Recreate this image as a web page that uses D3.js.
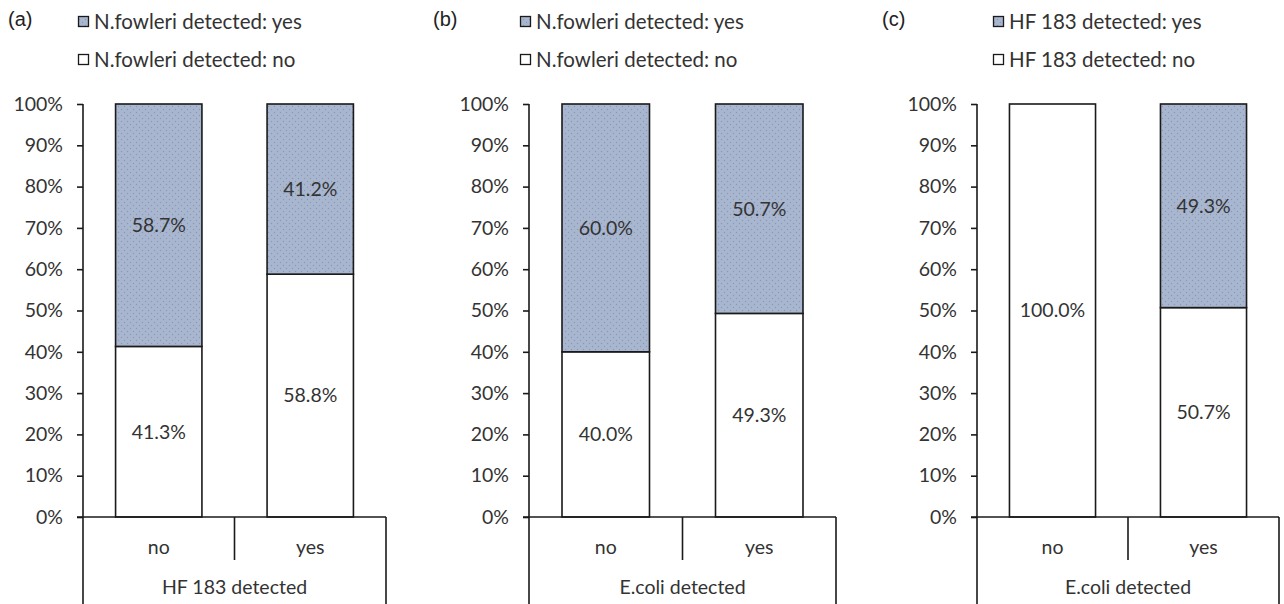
<!DOCTYPE html>
<html>
<head>
<meta charset="utf-8">
<script src="https://cdn.jsdelivr.net/npm/d3@7"></script>
<style>
  html, body { margin: 0; padding: 0; background: #fff; }
  svg { display: block; }
  text { font-family: Lato, "Open Sans", sans-serif; fill: #333; }
  .panel-tag { font-family: "Liberation Sans", Arial, sans-serif; fill: #222; }
</style>
</head>
<body>
<svg id="chart" width="1284" height="604"></svg>
<script>
// Shared category axis and y ticks
const categories = ["no", "yes"];
const tickValues = [0, 10, 20, 30, 40, 50, 60, 70, 80, 90, 100];

// Panel (a): N.fowleri by HF 183 detection
const aYes = [58.7, 41.2];
const aNo = [41.3, 58.8];
// Panel (b): N.fowleri by E.coli detection
const bYes = [60.0, 50.7];
const bNo = [40.0, 49.3];
// Panel (c): HF 183 by E.coli detection
const cYes = [0.0, 49.3];
const cNo = [100.0, 50.7];

const panelTags = ["(a)", "(b)", "(c)"];
const groupTitles = ["HF 183 detected", "E.coli detected", "E.coli detected"];
const legendYes = ["N.fowleri detected: yes", "N.fowleri detected: yes", "HF 183 detected: yes"];
const legendNo = ["N.fowleri detected: no", "N.fowleri detected: no", "HF 183 detected: no"];

const panels = [
  { tag: panelTags[0], title: groupTitles[0], yes: aYes, no: aNo, lyes: legendYes[0], lno: legendNo[0],
    x0: 83, x1: 386, tagX: 8, legX: 78 },
  { tag: panelTags[1], title: groupTitles[1], yes: bYes, no: bNo, lyes: legendYes[1], lno: legendNo[1],
    x0: 529, x1: 836, tagX: 433, legX: 520 },
  { tag: panelTags[2], title: groupTitles[2], yes: cYes, no: cNo, lyes: legendYes[2], lno: legendNo[2],
    x0: 977, x1: 1279, tagX: 882, legX: 993 }
];

const svg = d3.select("#chart");

// Dotted blue-grey fill for the "yes" segments
const defs = svg.append("defs");
const pat = defs.append("pattern")
  .attr("id", "dots").attr("patternUnits", "userSpaceOnUse")
  .attr("width", 6).attr("height", 6);
pat.append("rect").attr("width", 6).attr("height", 6).attr("fill", "#a9b6cf");
pat.append("circle").attr("cx", 1.5).attr("cy", 1.5).attr("r", 0.7).attr("fill", "#8a98b4");
pat.append("circle").attr("cx", 4.5).attr("cy", 4.5).attr("r", 0.7).attr("fill", "#8a98b4");

const yBottom = 517, yTop = 104, chartBottom = 604;
const y = d3.scaleLinear().domain([0, 100]).range([yBottom, yTop]);
const stroke = "#1a1a1a";

panels.forEach(p => {
  const g = svg.append("g");
  const x = d3.scaleBand().domain(categories).range([p.x0, p.x1])
    .paddingInner(0.43).paddingOuter(0.215);
  const outer = d3.scaleBand().domain(categories).range([p.x0, p.x1]);

  // Panel tag
  g.append("text").attr("class", "panel-tag")
    .attr("x", p.tagX).attr("y", 26).attr("font-size", 20).text(p.tag);

  // Legend
  const leg = [
    { label: p.lyes, fill: "url(#dots)", yy: 22 },
    { label: p.lno, fill: "#fff", yy: 60 }
  ];
  leg.forEach(l => {
    g.append("rect").attr("x", p.legX + 0.5).attr("y", l.yy - 5.5)
      .attr("width", 10).attr("height", 10)
      .attr("fill", l.fill).attr("stroke", stroke).attr("stroke-width", 1.3);
    g.append("text").attr("x", p.legX + 16).attr("y", l.yy)
      .attr("dy", "0.35em").attr("font-size", 20.5).text(l.label);
  });

  // Y axis
  const yAxis = d3.axisLeft(y).tickValues(tickValues)
    .tickFormat(d => d + "%").tickSize(6).tickPadding(14);
  const ya = g.append("g").attr("transform", `translate(${p.x0},0)`).call(yAxis);
  ya.select(".domain").remove();
  ya.selectAll(".tick line").attr("stroke", stroke).attr("stroke-width", 1.6);
  ya.selectAll(".tick text").attr("font-size", 19.5).attr("fill", "#333")
    .attr("font-family", "Lato, 'Open Sans', sans-serif");
  g.append("line").attr("x1", p.x0).attr("x2", p.x0).attr("y1", yTop).attr("y2", chartBottom)
    .attr("stroke", stroke).attr("stroke-width", 1.6);

  // Stacked bars: "no" at the bottom, "yes" on top
  const rows = categories.map((c, i) => ({ cat: c, no: p.no[i], yes: p.yes[i] }));
  rows.forEach(r => {
    const segs = [
      { lo: 0, hi: r.no, fill: "#fff" },
      { lo: r.no, hi: r.no + r.yes, fill: "url(#dots)" }
    ];
    segs.forEach(s => {
      if (s.hi - s.lo <= 0) return;
      g.append("rect")
        .attr("x", x(r.cat)).attr("width", x.bandwidth())
        .attr("y", y(Math.min(s.hi, 100))).attr("height", y(s.lo) - y(Math.min(s.hi, 100)))
        .attr("fill", s.fill).attr("stroke", stroke).attr("stroke-width", 1.6);
    });
    const labels = [
      { v: r.no, mid: r.no / 2 },
      { v: r.yes, mid: r.no + r.yes / 2 }
    ];
    labels.forEach(l => {
      if (l.v <= 0) return;
      g.append("text")
        .attr("x", x(r.cat) + x.bandwidth() / 2).attr("y", y(l.mid))
        .attr("dy", "0.35em").attr("text-anchor", "middle")
        .attr("font-size", 19.5).text(l.v.toFixed(1) + "%");
    });
  });

  // Baseline and grouped category axis
  g.append("line").attr("x1", p.x0 - 6).attr("x2", p.x1).attr("y1", yBottom).attr("y2", yBottom)
    .attr("stroke", stroke).attr("stroke-width", 1.6);
  g.append("line").attr("x1", p.x1).attr("x2", p.x1).attr("y1", yBottom).attr("y2", chartBottom)
    .attr("stroke", stroke).attr("stroke-width", 1.6);
  const divX = outer(categories[1]);
  g.append("line").attr("x1", divX).attr("x2", divX).attr("y1", yBottom).attr("y2", 560)
    .attr("stroke", stroke).attr("stroke-width", 1.6);
  categories.forEach(c => {
    g.append("text").attr("x", outer(c) + outer.bandwidth() / 2).attr("y", 547)
      .attr("dy", "0.35em").attr("text-anchor", "middle").attr("font-size", 19.5).text(c);
  });
  g.append("text").attr("x", (p.x0 + p.x1) / 2).attr("y", 587)
    .attr("dy", "0.35em").attr("text-anchor", "middle").attr("font-size", 19.5).text(p.title);
});
</script>
</body>
</html>
